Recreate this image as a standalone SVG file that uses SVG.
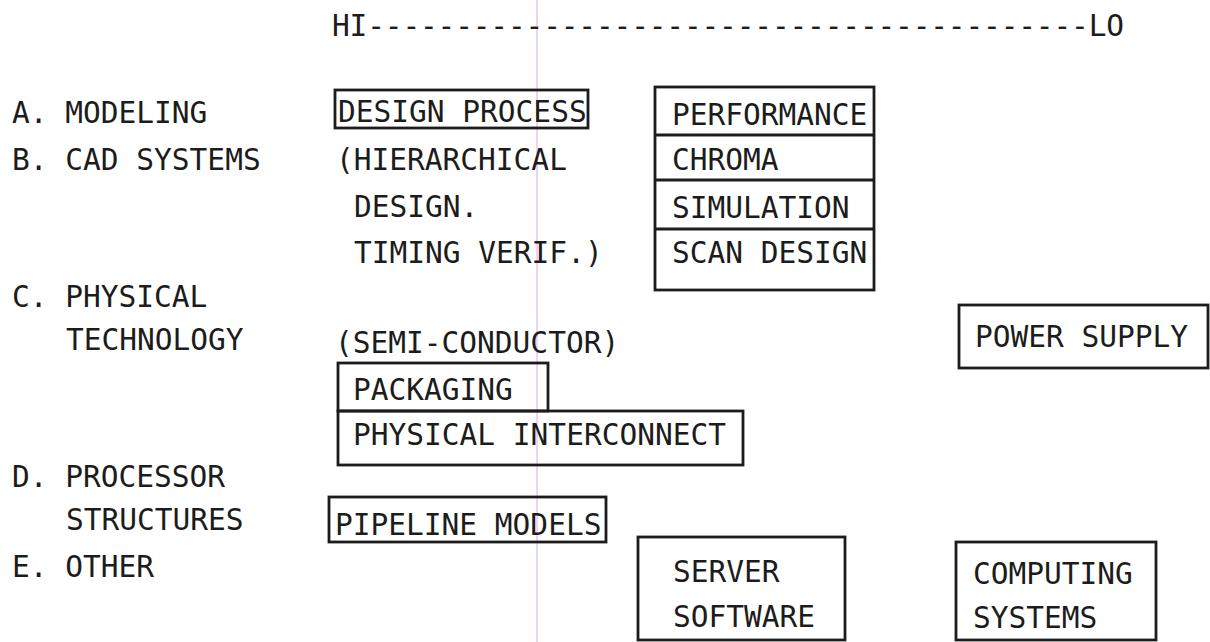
<svg xmlns="http://www.w3.org/2000/svg" width="1210" height="642" viewBox="0 0 1210 642">
<style>
text{font-family:"DejaVu Sans Mono","Liberation Mono",monospace;font-size:29.5px;fill:#1c1c1c;}
.box{fill:none;stroke:#1c1c1c;stroke-width:2.8;}
.guide{stroke:#e9b4ea;stroke-width:1.2;}
</style>
<rect width="1210" height="642" fill="#ffffff"/>
<line class="guide" x1="537" y1="0" x2="537" y2="642"/>
<g id="axis">
<text x="332" y="36" textLength="792" lengthAdjust="spacing">HI-----------------------------------------LO</text>
</g>
<g id="categories">
<text x="12" y="123">A. MODELING</text>
<text x="12" y="170">B. CAD SYSTEMS</text>
<text x="12" y="307">C. PHYSICAL</text>
<text x="66" y="350">TECHNOLOGY</text>
<text x="12" y="487">D. PROCESSOR</text>
<text x="66" y="530">STRUCTURES</text>
<text x="12" y="577">E. OTHER</text>
</g>
<g id="design-process">
<rect class="box" x="335" y="90" width="253" height="38"/>
<text x="338" y="122">DESIGN PROCESS</text>
</g>
<g id="hierarchical-note">
<text x="336" y="170">(HIERARCHICAL</text>
<text x="354" y="217">DESIGN.</text>
<text x="354" y="263">TIMING VERIF.)</text>
</g>
<g id="tools-stack">
<rect class="box" x="655" y="87" width="219" height="203"/>
<line class="box" x1="655" y1="135" x2="874" y2="135"/>
<line class="box" x1="655" y1="180" x2="874" y2="180"/>
<line class="box" x1="655" y1="229" x2="874" y2="229"/>
<text x="672" y="125">PERFORMANCE</text>
<text x="672" y="170">CHROMA</text>
<text x="672" y="218">SIMULATION</text>
<text x="672" y="263">SCAN DESIGN</text>
</g>
<g id="semiconductor">
<text x="335" y="353">(SEMI-CONDUCTOR)</text>
</g>
<g id="packaging">
<rect class="box" x="338" y="363" width="210" height="48"/>
<text x="353" y="400">PACKAGING</text>
</g>
<g id="physical-interconnect">
<rect class="box" x="338" y="411" width="405" height="54"/>
<text x="353" y="445">PHYSICAL INTERCONNECT</text>
</g>
<g id="power-supply">
<rect class="box" x="959" y="305" width="249" height="63"/>
<text x="975" y="347">POWER SUPPLY</text>
</g>
<g id="pipeline-models">
<rect class="box" x="329" y="497" width="277" height="45"/>
<text x="335" y="535">PIPELINE MODELS</text>
</g>
<g id="server-software">
<rect class="box" x="638" y="537" width="207" height="103"/>
<text x="673" y="582">SERVER</text>
<text x="673" y="627">SOFTWARE</text>
</g>
<g id="computing-systems">
<rect class="box" x="956" y="542" width="200" height="98"/>
<text x="973" y="584">COMPUTING</text>
<text x="973" y="628">SYSTEMS</text>
</g>
<g id="connectors"></g>
</svg>
